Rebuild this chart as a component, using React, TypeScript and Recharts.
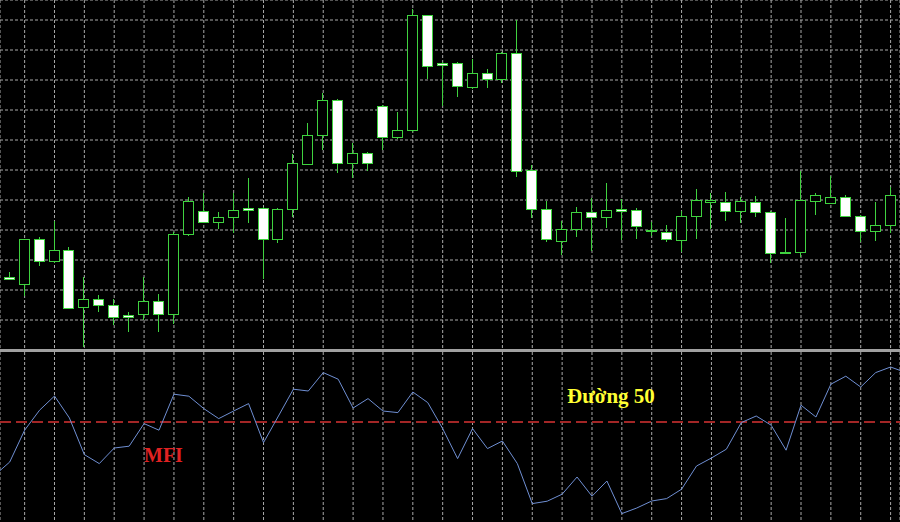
import React from 'react';
import {
  ComposedChart,
  LineChart,
  Bar,
  Line,
  XAxis,
  YAxis,
  CartesianGrid,
  ReferenceLine
} from 'recharts';

// OHLC, one entry per bar
const opens = [
  124.5, 122.1, 137.0, 129.6, 133.2, 114.3, 117.1, 115.0, 111.8, 111.9,
  116.2, 111.9, 138.6, 146.3, 142.6, 144.2, 147.3, 147.2, 136.9, 146.9,
  162.1, 171.6, 183.3, 162.2, 165.6, 181.4, 170.9, 173.3, 211.6, 195.8,
  195.6, 187.6, 192.2, 190.2, 198.9, 159.9, 146.9, 136.4, 140.4, 146.0,
  144.4, 146.9, 146.7, 140.1, 139.2, 136.7, 144.7, 149.4, 149.4, 146.4,
  149.4, 146.1, 132.7, 132.6, 149.8, 148.9, 150.9, 144.8, 139.6, 141.6
];
const highs = [
  126.1, 137.0, 137.8, 143.0, 134.2, 124.2, 118.2, 116.9, 112.8, 124.2,
  118.7, 139.4, 150.9, 152.2, 145.9, 152.2, 157.4, 147.7, 147.3, 165.3,
  175.6, 185.6, 183.7, 168.9, 165.9, 181.7, 179.2, 213.6, 211.7, 196.0,
  196.1, 196.9, 193.7, 199.4, 210.0, 161.6, 149.6, 143.0, 147.8, 150.7,
  155.6, 150.2, 147.2, 142.8, 141.7, 146.4, 153.6, 152.2, 152.6, 151.1,
  151.3, 146.3, 143.9, 159.8, 152.2, 158.0, 151.7, 145.0, 149.4, 154.2
];
const lows = [
  123.3, 118.1, 128.1, 128.9, 113.7, 101.1, 112.6, 108.3, 106.1, 110.0,
  105.9, 108.7, 138.0, 142.3, 140.2, 138.9, 142.2, 123.6, 135.8, 144.2,
  161.7, 166.7, 159.1, 157.4, 159.7, 166.7, 170.2, 172.8, 190.3, 181.4,
  184.4, 186.9, 187.2, 189.1, 157.6, 143.9, 136.1, 131.6, 137.8, 133.0,
  140.6, 136.7, 136.9, 138.0, 136.0, 132.6, 136.9, 140.2, 143.1, 142.2,
  144.3, 128.9, 132.0, 131.1, 145.0, 148.7, 144.2, 136.1, 136.4, 138.9
];
const closes = [
  123.8, 137.0, 129.7, 133.2, 113.9, 116.9, 115.0, 110.9, 110.9, 116.2,
  111.9, 138.6, 149.6, 142.6, 144.2, 146.7, 146.6, 137.0, 146.9, 162.2,
  171.6, 183.3, 162.2, 165.6, 162.4, 170.9, 173.3, 211.6, 194.8, 194.9,
  188.0, 192.2, 190.2, 198.9, 159.8, 147.0, 137.0, 140.4, 146.0, 144.4,
  146.7, 146.4, 141.3, 139.7, 136.9, 144.8, 150.0, 150.0, 146.3, 149.6,
  146.0, 132.2, 132.2, 149.9, 151.6, 150.9, 144.8, 139.6, 141.7, 151.6
];

// MFI from bar -1 to bar 60 (the two ends run off the visible window)
const mfiValues = [
  23.4, 30.0, 45.9, 55.9, 63.0, 52.0, 33.7, 29.2, 37.0, 37.9, 49.2,
  45.9, 63.9, 62.9, 56.7, 51.7, 55.5, 59.2, 39.7, 53.0, 66.4,
  65.5, 74.7, 71.4, 57.0, 61.7, 55.5, 54.7, 65.0, 59.7, 46.7,
  31.7, 46.7, 36.7, 40.5, 29.2, 9.2, 10.4, 13.9, 22.5, 12.9,
  20.5, 4.2, 7.0, 10.5, 11.7, 16.4, 28.0, 32.0, 36.4, 49.7,
  53.0, 48.4, 35.9, 58.4, 52.5, 68.9, 72.9, 67.5, 74.7, 77.5, 74.8
];

const priceTicks = [110, 120, 130, 140, 150, 160, 170, 180, 190, 200, 210];
const barTicks = [1, 3, 5, 7, 9, 11, 13, 15, 17, 19, 21, 23, 25, 27, 29,
  31, 33, 35, 37, 39, 41, 43, 45, 47, 49, 51, 53, 55, 57, 59];

const candles = opens.map((open, i) => ({
  idx: i,
  open,
  high: highs[i],
  low: lows[i],
  close: closes[i]
}));
const mfiData = mfiValues.map((mfi, i) => ({ idx: i - 1, mfi }));

const GREEN = '#3fd23f';
const GRID = '#a9a9a9';
const X_DOMAIN: [number, number] = [-0.65, 59.63];

// draws wick + body inside the [low, high] band that Bar hands us
const Candle = (props: any) => {
  const { x, y, width, height, payload } = props;
  const { open, close, high, low } = payload;
  const top = Math.min(y, y + height);
  const span = Math.abs(height);
  const k = span / (high - low);
  const yOf = (v: number) => top + (high - v) * k;
  const cx = Math.floor(x + width / 2) + 0.5;
  const bTop = Math.round(yOf(Math.max(open, close))) + 0.5;
  const bBot = Math.round(yOf(Math.min(open, close))) + 0.5;
  return (
    <g>
      <line x1={cx} x2={cx} y1={Math.round(top)} y2={Math.round(top + span)} stroke={GREEN} strokeWidth={1} />
      <rect
        x={cx - 5}
        y={bTop}
        width={10}
        height={Math.max(bBot - bTop, 1)}
        fill={close < open ? '#ffffff' : '#000000'}
        stroke={GREEN}
        strokeWidth={1}
      />
    </g>
  );
};

export default function App() {
  return (
    <div style={{ position: 'absolute', left: 0, top: 0, width: 900, height: 522, background: '#000', overflow: 'hidden' }}>
      <div style={{ position: 'absolute', left: 0, top: 0 }}>
        <ComposedChart width={900} height={350} data={candles} margin={{ top: 0, right: 0, bottom: 0, left: 0 }}>
          <CartesianGrid stroke={GRID} strokeDasharray="3 2" />
          <XAxis type="number" dataKey="idx" domain={X_DOMAIN} ticks={barTicks} allowDataOverflow hide />
          <YAxis type="number" domain={[100, 216.67]} ticks={priceTicks} allowDataOverflow hide />
          <Bar
            dataKey={(d: any) => [d.low, d.high]}
            barSize={10}
            shape={Candle}
            isAnimationActive={false}
          />
        </ComposedChart>
      </div>

      <div style={{ position: 'absolute', left: 0, top: 349, width: 900, height: 3, background: '#a0a0a0' }} />

      <div style={{ position: 'absolute', left: 0, top: 352 }}>
        <LineChart width={900} height={170} data={mfiData} margin={{ top: 0, right: 0, bottom: 0, left: 0 }}>
          <CartesianGrid stroke={GRID} strokeDasharray="3 2" horizontal={false} />
          <XAxis type="number" dataKey="idx" domain={X_DOMAIN} ticks={barTicks} allowDataOverflow hide />
          <YAxis type="number" domain={[0, 85]} allowDataOverflow hide />
          <ReferenceLine y={50} stroke="#a32626" strokeWidth={2} strokeDasharray="11 5" />
          <Line
            type="linear"
            dataKey="mfi"
            stroke="#6f8fd3"
            strokeWidth={1}
            dot={false}
            isAnimationActive={false}
          />
        </LineChart>
      </div>

      <svg width={900} height={522} style={{ position: 'absolute', left: 0, top: 0, pointerEvents: 'none' }}>
        <g fontFamily="'Liberation Serif', 'Times New Roman', serif" fontWeight="bold">
          <text x={567} y={403} fill="#ffff33" fontSize={21}>Đường 50</text>
          <text x={144} y={462} fill="#e02222" fontSize={20}>MFI</text>
        </g>
      </svg>
    </div>
  );
}
